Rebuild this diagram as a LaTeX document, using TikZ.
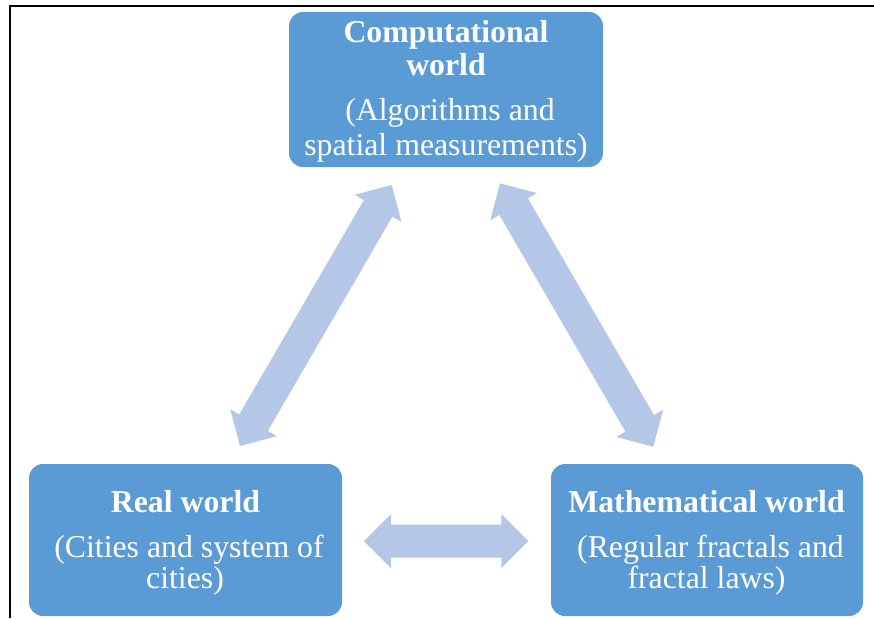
\documentclass[tikz,border=0pt]{standalone}
\usepackage{fontspec}
\setmainfont{Liberation Serif}
\usetikzlibrary{calc}
\definecolor{boxblue}{HTML}{5B9BD5}
\definecolor{arrowblue}{HTML}{B4C7E7}
\tikzset{
  box/.style={fill=boxblue, draw=none, rounded corners=14pt, inner sep=0pt},
  titletxt/.style={anchor=base, text=white, inner sep=0pt, font=\fontsize{31.8}{34}\selectfont\bfseries},
  subtxt/.style={anchor=base, text=white, inner sep=0pt, font=\fontsize{31.8}{34}\selectfont},
  frameline/.style={line width=2pt, black},
}
\newcommand\fatarrow[2]{%
  \path ($(#1)!27pt!(#2)$) coordinate (fa1) ($(#2)!27pt!(#1)$) coordinate (fa2);
  \fill[arrowblue] (#1) -- ($(fa1)!27pt!90:(#2)$) -- ($(fa1)!16.5pt!90:(#2)$)
    -- ($(fa2)!16.5pt!90:(#2)$) -- ($(fa2)!27pt!90:(#2)$) -- (#2)
    -- ($(fa2)!27pt!-90:(#2)$) -- ($(fa2)!16.5pt!-90:(#2)$)
    -- ($(fa1)!16.5pt!-90:(#2)$) -- ($(fa1)!27pt!-90:(#2)$) -- cycle;}
\begin{document}
\begin{tikzpicture}[x=1pt, y=-1pt]
\useasboundingbox (0,0) rectangle (874,618);
\fill[white] (0,0) rectangle (874,618);
% frame
\draw[frameline] (10,618) -- (10,6) -- (874,6);
% boxes
\node[box, minimum width=314pt, minimum height=155pt] (comp) at (446,89.5) {};
\node[box, minimum width=313pt, minimum height=152pt] (real) at (185.5,540) {};
\node[box, minimum width=312pt, minimum height=152pt] (math) at (707,540) {};
% texts
\node[titletxt] (t1) at (446,43) {Computational};
\node[titletxt] (t2) at (446,75) {world};
\node[subtxt] (t3) at (450,120) {(Algorithms and};
\node[subtxt] (t4) at (446,155) {spatial measurements)};
\node[titletxt] (r1) at (185.5,512) {Real world};
\node[subtxt] (r2) at (189,557) {(Cities and system of};
\node[subtxt] (r3) at (185,588) {cities)};
\node[titletxt] (m1) at (706.5,512) {Mathematical world};
\node[subtxt] (m2) at (710.5,557) {(Regular fractals and};
\node[subtxt] (m3) at (706.5,588) {fractal laws)};
% arrow ends
\coordinate (la) at (240,446);
\coordinate (lb) at (391.7,185);
\coordinate (ra) at (500,183.3);
\coordinate (rb) at (653.3,446.7);
\coordinate (ha) at (364,541);
\coordinate (hb) at (528.3,541);
\fatarrow{la}{lb}
\fatarrow{ra}{rb}
\fatarrow{ha}{hb}
\end{tikzpicture}
\end{document}
